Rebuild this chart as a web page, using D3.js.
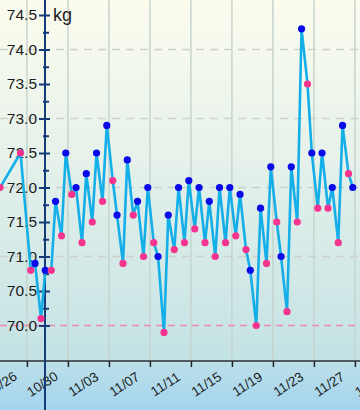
<!DOCTYPE html>
<html>
<head>
<meta charset="utf-8">
<script src="https://cdn.jsdelivr.net/npm/d3@7"></script>
<style>
  body { margin: 0; background: #ffffff; }
  svg { display: block; font-family: "Liberation Sans", Arial, sans-serif; }
</style>
</head>
<body>
<script>
var width = 360;
var height = 410;
var axisX = 45;   // where the kg axis sits
var axisY = 361;  // where the date axis sits

// morning readings (blue)
var amDays = ['10/29', '10/30', '10/31', '11/01', '11/02', '11/03', '11/04', '11/05', '11/06', '11/07',
              '11/08', '11/09', '11/10', '11/11', '11/12', '11/13', '11/14', '11/15', '11/16', '11/17',
              '11/18', '11/19', '11/20', '11/21', '11/22', '11/23', '11/24', '11/25', '11/26', '11/27',
              '11/28', '11/29'];
var amKg = [70.9, 70.8, 71.8, 72.5, 72.0, 72.2, 72.5, 72.9, 71.6, 72.4,
            71.8, 72.0, 71.0, 71.6, 72.0, 72.1, 72.0, 71.8, 72.0, 72.0,
            71.9, 70.8, 71.7, 72.3, 71.0, 72.3, 74.3, 72.5, 72.5, 72.0,
            72.9, 72.0];

// evening readings (pink)
var pmDays = ['10/25', '10/27', '10/28', '10/29', '10/30', '10/31', '11/01', '11/02', '11/03', '11/04',
              '11/05', '11/06', '11/07', '11/08', '11/09', '11/10', '11/11', '11/12', '11/13', '11/14',
              '11/15', '11/16', '11/17', '11/18', '11/19', '11/20', '11/21', '11/22', '11/23', '11/24',
              '11/25', '11/26', '11/27', '11/28'];
var pmKg = [72.0, 72.5, 70.8, 70.1, 70.8, 71.3, 71.9, 71.2, 71.5, 71.8,
            72.1, 70.9, 71.6, 71.0, 71.2, 69.9, 71.1, 71.2, 71.4, 71.2,
            71.0, 71.2, 71.3, 71.1, 70.0, 70.9, 71.5, 70.2, 71.5, 73.5,
            71.7, 71.7, 71.2, 72.2];

var dateLabels = ['10/26', '10/30', '11/03', '11/07', '11/11', '11/15', '11/19', '11/23', '11/27', '12/01'];
var kgLabels = [70.0, 70.5, 71.0, 71.5, 72.0, 72.5, 73.0, 73.5, 74.0, 74.5];
var kgMinor = [70.25, 70.75, 71.25, 71.75, 72.25, 72.75, 73.25, 73.75, 74.25];
var guideKg = [71, 72, 73, 74];
var goalKg = 70.0;

function toDate(s, hour) {
  var p = s.split('/');
  return new Date(2023, +p[0] - 1, +p[1], hour);
}

var readings = [];
amDays.forEach(function (d, i) { readings.push({ t: toDate(d, 7), kg: amKg[i], am: true }); });
pmDays.forEach(function (d, i) { readings.push({ t: toDate(d, 21), kg: pmKg[i], am: false }); });
readings.sort(function (a, b) { return a.t - b.t; });

var dayPx = 10.25;
var x = d3.scaleTime()
  .domain([toDate('10/30', 0), toDate('11/29', 0)])
  .range([42.3, 42.3 + 30 * dayPx]);
var y = d3.scaleLinear().domain([70, 74.5]).range([325.5, 15]);

var svg = d3.select('body')
  .append('svg')
  .attr('width', width)
  .attr('height', height);

// backgrounds
var defs = svg.append('defs');
var g1 = defs.append('linearGradient').attr('id', 'plotBg').attr('x1', 0).attr('x2', 0).attr('y1', 0).attr('y2', 1);
g1.append('stop').attr('offset', '0%').attr('stop-color', '#fcfcee');
g1.append('stop').attr('offset', '45%').attr('stop-color', '#e5f1ea');
g1.append('stop').attr('offset', '100%').attr('stop-color', '#c3e2e4');
var g2 = defs.append('linearGradient').attr('id', 'axisBg').attr('x1', 0).attr('x2', 0).attr('y1', 0).attr('y2', 1);
g2.append('stop').attr('offset', '0%').attr('stop-color', '#bde0e8');
g2.append('stop').attr('offset', '100%').attr('stop-color', '#a3d4ef');
defs.append('clipPath').attr('id', 'plotClip')
  .append('rect').attr('x', 0).attr('y', 0).attr('width', width).attr('height', axisY);

svg.append('rect').attr('width', width).attr('height', axisY).attr('fill', 'url(#plotBg)');
svg.append('rect').attr('y', axisY).attr('width', width).attr('height', height - axisY).attr('fill', 'url(#axisBg)');

// grid ticks sit a day and a half before each label
var tickDates = dateLabels.map(function (s) { return new Date(toDate(s, 0).getTime() - 36 * 3600 * 1000); });

svg.append('g')
  .selectAll('line')
  .data(tickDates)
  .enter()
  .append('line')
  .attr('x1', function (d) { return x(d); })
  .attr('x2', function (d) { return x(d); })
  .attr('y1', 0)
  .attr('y2', axisY)
  .style('stroke', '#c6d4ce')
  .style('stroke-width', 1.5);

svg.append('g')
  .selectAll('line')
  .data(guideKg)
  .enter()
  .append('line')
  .attr('x1', 0)
  .attr('x2', width)
  .attr('y1', function (d) { return y(d); })
  .attr('y2', function (d) { return y(d); })
  .style('stroke', '#cdd1cc')
  .style('stroke-width', 1.5)
  .style('stroke-dasharray', '8,6');

svg.append('line')
  .attr('x1', 0)
  .attr('x2', width)
  .attr('y1', y(goalKg))
  .attr('y2', y(goalKg))
  .style('stroke', '#f08ab2')
  .style('stroke-width', 1.6)
  .style('stroke-dasharray', '7,5');

// date axis
var xAxis = svg.append('g')
  .attr('transform', 'translate(0,' + axisY + ')')
  .call(d3.axisBottom(x).tickValues(tickDates).tickSize(6).tickFormat(''));
xAxis.select('.domain').remove();
xAxis.selectAll('.tick line').style('stroke', '#222').style('stroke-width', 1.5);
svg.append('line')
  .attr('x1', 0).attr('x2', width)
  .attr('y1', axisY).attr('y2', axisY)
  .style('stroke', '#2a2f33')
  .style('stroke-width', 1.5);

svg.append('g')
  .selectAll('text')
  .data(dateLabels)
  .enter()
  .append('text')
  .attr('transform', function (d) { return 'translate(' + x(toDate(d, 0)) + ',' + (axisY + 23) + ') rotate(-33)'; })
  .attr('text-anchor', 'middle')
  .attr('dy', '0.35em')
  .style('font-size', '13.5px')
  .style('fill', '#1c1c1c')
  .text(function (d) { return d; });

// kg axis, full height
svg.append('line')
  .attr('x1', axisX).attr('x2', axisX)
  .attr('y1', 0).attr('y2', height)
  .style('stroke', '#143c78')
  .style('stroke-width', 2);

var yAxis = svg.append('g')
  .attr('transform', 'translate(' + axisX + ',0)')
  .call(d3.axisLeft(y).tickValues(kgLabels).tickSize(6).tickPadding(2).tickFormat(d3.format('.1f')));
yAxis.select('.domain').remove();
yAxis.selectAll('.tick line').attr('x1', 5).attr('x2', -6).style('stroke', '#143c78').style('stroke-width', 2);
yAxis.selectAll('.tick text')
  .style('font-size', '15.5px')
  .style('font-family', '"Liberation Sans", Arial, sans-serif')
  .style('fill', '#1c1c1c');

var yMinor = svg.append('g')
  .attr('transform', 'translate(' + axisX + ',0)')
  .call(d3.axisLeft(y).tickValues(kgMinor).tickSize(0).tickFormat(''));
yMinor.select('.domain').remove();
yMinor.selectAll('.tick line').attr('x1', 4).attr('x2', -2).style('stroke', '#143c78').style('stroke-width', 2);

svg.append('text')
  .attr('x', axisX + 8)
  .attr('y', 21)
  .style('font-size', '18px')
  .style('fill', '#1c1c1c')
  .text('kg');

// readings
var plot = svg.append('g').attr('clip-path', 'url(#plotClip)');
var line = d3.line()
  .x(function (d) { return x(d.t); })
  .y(function (d) { return y(d.kg); });

plot.append('path')
  .datum(readings)
  .attr('d', line)
  .style('fill', 'none')
  .style('stroke', '#14aee8')
  .style('stroke-width', 2.6)
  .style('stroke-linejoin', 'round');

plot.selectAll('circle')
  .data(readings)
  .enter()
  .append('circle')
  .attr('cx', function (d) { return x(d.t); })
  .attr('cy', function (d) { return y(d.kg); })
  .attr('r', 3.6)
  .style('fill', function (d) { return d.am ? '#0a0ae8' : '#f5348f'; });
</script>
</body>
</html>
